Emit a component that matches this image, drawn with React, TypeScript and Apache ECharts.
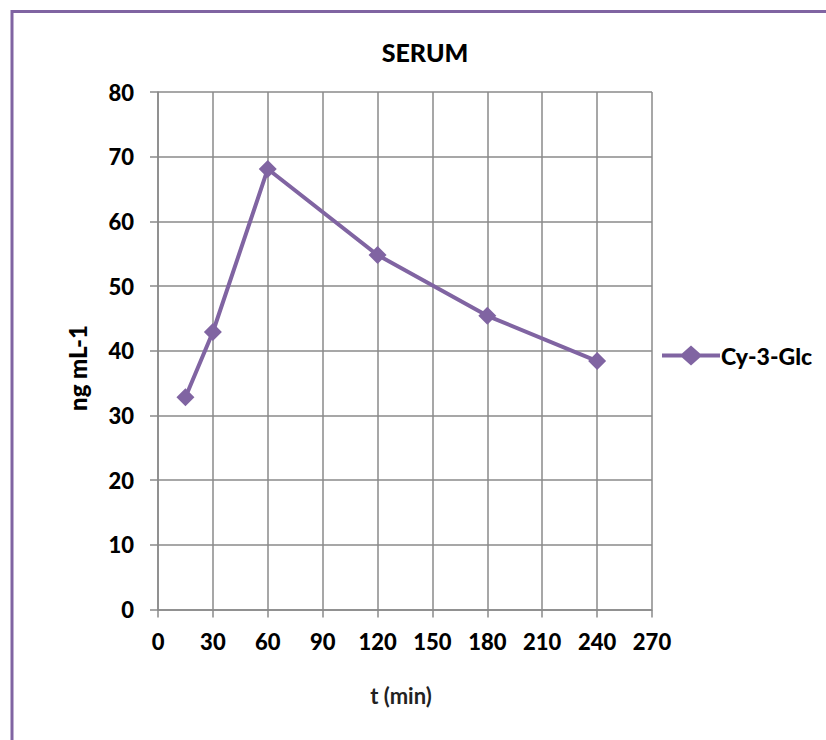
import React, { useEffect, useRef } from "react";
import * as echarts from "echarts";

const timeMin = [15, 30, 60, 120, 180, 240];
const serumValues = [32.8, 42.9, 68.1, 54.8, 45.4, 38.4];
const seriesName = "Cy-3-Glc";
const chartTitle = "SERUM";
const xAxisTitle = "t (min)";
const yAxisTitle = "ng mL-1";

const PURPLE = "#8064A2";
const GRID = "#8a8a8a";
const FONT = "Lato, 'Open Sans', sans-serif";
const W = 900;

export default function App() {
  const ref = useRef<HTMLDivElement>(null);
  useEffect(() => {
    document.body.style.margin = "0";
    const chart = echarts.init(ref.current!, null, { renderer: "svg" });
    chart.setOption({
      animation: false,
      backgroundColor: "#ffffff",
      textStyle: { fontFamily: FONT },
      title: {
        text: chartTitle,
        left: 420,
        top: 34,
        textAlign: "center",
        textStyle: { fontFamily: FONT, fontWeight: W, fontSize: 25, color: "#000" },
      },
      legend: {
        left: 657,
        top: 339,
        itemWidth: 58,
        itemHeight: 20,
        itemGap: 0,
        data: [{
          name: seriesName,
          icon: "path://M0,8 L20,8 L29,0 L38,8 L58,8 L58,12 L38,12 L29,20 L20,12 L0,12 Z",
        }],
        textStyle: { fontFamily: FONT, fontWeight: W, fontSize: 23, color: "#000", padding: [0, 0, 0, -4] },
      },
      grid: { left: 158, top: 92, width: 494, height: 517.5 },
      xAxis: {
        type: "value",
        min: 0,
        max: 270,
        interval: 30,
        axisLine: { show: true, lineStyle: { color: GRID, width: 1.5 } },
        axisTick: { show: true, length: 8, lineStyle: { color: GRID, width: 1.5 } },
        splitLine: { show: true, lineStyle: { color: GRID, width: 1.5 } },
        axisLabel: { margin: 21, fontFamily: FONT, fontWeight: W, fontSize: 22, color: "#000" },
      },
      yAxis: {
        type: "value",
        min: 0,
        max: 80,
        interval: 10,
        axisLine: { show: true, lineStyle: { color: GRID, width: 1.5 } },
        axisTick: { show: true, length: 8, lineStyle: { color: GRID, width: 1.5 } },
        splitLine: { show: true, lineStyle: { color: GRID, width: 1.5 } },
        axisLabel: { margin: 24, fontFamily: FONT, fontWeight: W, fontSize: 22, color: "#000" },
      },
      graphic: [
        {
          type: "rect",
          shape: { x: 12, y: 11.5, width: 900, height: 900 },
          style: { fill: "none", stroke: PURPLE, lineWidth: 3 },
          silent: true,
        },
        {
          type: "text",
          x: 77,
          y: 368,
          rotation: Math.PI / 2,
          style: {
            text: yAxisTitle,
            font: `${W} 24px ${FONT}`,
            fill: "#000",
            align: "center",
            verticalAlign: "middle",
          },
        },
        {
          type: "text",
          x: 401,
          y: 695,
          style: {
            text: xAxisTitle,
            font: `bold 22px ${FONT}`,
            fill: "#222",
            align: "center",
            verticalAlign: "middle",
          },
        },
      ],
      series: [
        {
          name: seriesName,
          type: "line",
          data: timeMin.map((t, i) => [t, serumValues[i]]),
          symbol: "diamond",
          symbolSize: 18,
          itemStyle: { color: PURPLE },
          lineStyle: { color: PURPLE, width: 4 },
        },
      ],
    });
    return () => chart.dispose();
  }, []);
  return <div ref={ref} style={{ width: 826, height: 740 }} />;
}
